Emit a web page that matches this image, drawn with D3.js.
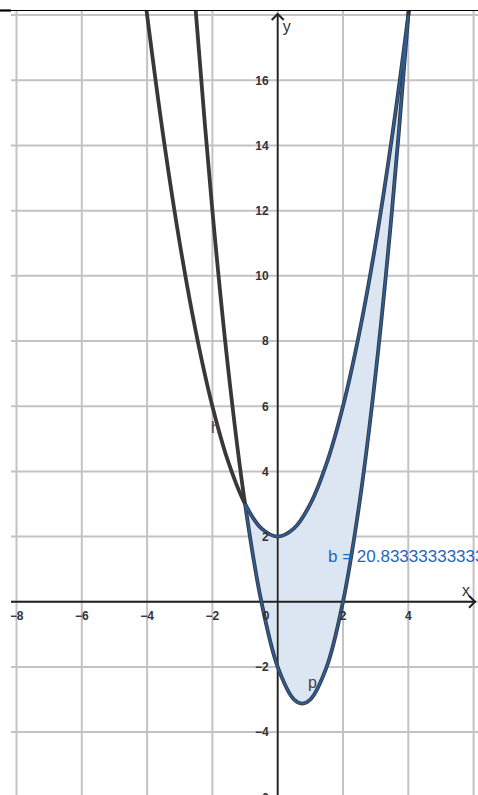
<!DOCTYPE html>
<html>
<head>
<meta charset="utf-8">
<script src="https://cdn.jsdelivr.net/npm/d3@7"></script>
<style>
  body { margin: 0; background: #fff; }
  svg { display: block; }
</style>
</head>
<body>
<div class="box"></div>
<script>
// points
var fX = [-4.3, -4, -3.5, -3, -2.5, -2, -1.5, -1, -0.5, 0, 0.5, 1, 1.5, 2, 2.5, 3, 3.5, 4, 4.2];
var fY = [20.49, 18, 14.25, 11, 8.25, 6, 4.25, 3, 2.25, 2, 2.25, 3, 4.25, 6, 8.25, 11, 14.25, 18, 19.64];
var pX = [-2.8, -2.5, -2, -1.5, -1, -0.5, 0, 0.5, 0.75, 1, 1.5, 2, 2.5, 3, 3.5, 4, 4.2];
var pY = [22.08, 18, 12, 7, 3, 0, -2, -3, -3.125, -3, -2, 0, 3, 7, 12, 18, 20.68];
var regionFrom = -1, regionTo = 4;
var xTicks = [-8, -6, -4, -2, 0, 2, 4];
var yTicks = [-6, -4, -2, 2, 4, 6, 8, 10, 12, 14, 16];
var gridX = [-8, -6, -4, -2, 0, 2, 4, 6];
var gridY = [-6, -4, -2, 0, 2, 4, 6, 8, 10, 12, 14, 16, 18];
var areaText = "b = 20.8333333333333";

var W = 478, H = 795;
var mLeft = 11, mTop = 11;

var svg = d3.select(".box").append("svg")
  .attr("width", W)
  .attr("height", H);

var x = d3.scaleLinear().domain([-8, 6]).range([16.5, 473.6]);
var y = d3.scaleLinear().domain([-6, 18]).range([797.3, 15.1]);

svg.append("defs").append("clipPath")
  .attr("id", "plot")
  .append("rect")
  .attr("x", mLeft).attr("y", mTop)
  .attr("width", W - mLeft).attr("height", H - mTop);

var g = svg.append("g").attr("clip-path", "url(#plot)");

// grid
g.append("g").selectAll("line")
  .data(gridX)
  .enter().append("line")
  .attr("x1", function(d) { return x(d); })
  .attr("x2", function(d) { return x(d); })
  .attr("y1", mTop).attr("y2", H)
  .attr("stroke", "#c2c2c8").attr("stroke-width", 2);
g.append("g").selectAll("line")
  .data(gridY)
  .enter().append("line")
  .attr("y1", function(d) { return y(d); })
  .attr("y2", function(d) { return y(d); })
  .attr("x1", mLeft).attr("x2", W)
  .attr("stroke", "#c2c2c8").attr("stroke-width", 2);

function pts(xs, ys) {
  return xs.map(function(d, i) { return [d, ys[i]]; });
}
var fPts = pts(fX, fY), pPts = pts(pX, pY);

var line = d3.line()
  .x(function(d) { return x(d[0]); })
  .y(function(d) { return y(d[1]); })
  .curve(d3.curveCatmullRom);

// shaded region between the two curves
var upper = fPts.filter(function(d) { return d[0] >= regionFrom && d[0] <= regionTo; });
var lower = pPts.filter(function(d) { return d[0] >= regionFrom && d[0] <= regionTo; }).reverse();
var regionPath = line(upper) + "L" + line(lower).slice(1) + "Z";

g.append("path")
  .attr("d", regionPath)
  .attr("fill", "#dce6f3")
  .attr("stroke", "none");

// axes
var axisCol = "#222";
g.append("line")
  .attr("x1", mLeft).attr("x2", W - 2)
  .attr("y1", y(0)).attr("y2", y(0))
  .attr("stroke", axisCol).attr("stroke-width", 2);
g.append("line")
  .attr("x1", x(0)).attr("x2", x(0))
  .attr("y1", mTop + 3).attr("y2", H)
  .attr("stroke", axisCol).attr("stroke-width", 1.8);
// arrows
g.append("path")
  .attr("d", "M" + (W - 9) + "," + (y(0) - 6) + "L" + (W - 3) + "," + y(0) + "L" + (W - 9) + "," + (y(0) + 6))
  .attr("fill", "none").attr("stroke", axisCol).attr("stroke-width", 2);
g.append("path")
  .attr("d", "M" + (x(0) - 6) + "," + (mTop + 9) + "L" + x(0) + "," + (mTop + 3) + "L" + (x(0) + 6) + "," + (mTop + 9))
  .attr("fill", "none").attr("stroke", axisCol).attr("stroke-width", 2);

// curves
g.append("path").attr("d", line(fPts))
  .attr("fill", "none").attr("stroke", "#383838").attr("stroke-width", 3.8);
g.append("path").attr("d", line(pPts))
  .attr("fill", "none").attr("stroke", "#383838").attr("stroke-width", 3.8);
g.append("path").attr("d", regionPath)
  .attr("fill", "none").attr("stroke", "#2b5d9c").attr("stroke-width", 2);

// tick labels
var fmt = function(d) { return d < 0 ? "\u2212" + Math.abs(d) : d; };
g.append("g").selectAll("text")
  .data(xTicks)
  .enter().append("text")
  .attr("x", function(d) { return d === 0 ? x(0) - 15 : x(d); })
  .attr("y", y(0) + 18)
  .attr("text-anchor", function(d) { return d === 0 ? "start" : "middle"; })
  .style("font", "bold 12px 'Liberation Sans', Arial, sans-serif")
  .attr("fill", "#333")
  .text(fmt);
g.append("g").selectAll("text")
  .data(yTicks)
  .enter().append("text")
  .attr("x", x(0) - 9)
  .attr("y", function(d) { return y(d); })
  .attr("dy", "0.36em")
  .attr("text-anchor", "end")
  .style("font", "bold 12px 'Liberation Sans', Arial, sans-serif")
  .attr("fill", "#333")
  .text(fmt);

// axis names and curve labels
var lab = "16px 'Liberation Sans', Arial, sans-serif";
g.append("text").attr("x", x(0) + 5).attr("y", 32).style("font", lab).attr("fill", "#333").text("y");
g.append("text").attr("x", 462).attr("y", 596).style("font", lab).attr("fill", "#333").text("x");
g.append("text").attr("x", 211).attr("y", 433).style("font", lab).attr("fill", "#444").text("h");
g.append("text").attr("x", 308).attr("y", 688).style("font", lab).attr("fill", "#444").text("p");
g.append("text").attr("x", 328).attr("y", 562)
  .style("font", "17px 'Liberation Sans', Arial, sans-serif")
  .attr("fill", "#1f66c1").text(areaText);

// top border
svg.append("line").attr("x1", 0).attr("x2", W).attr("y1", 10.5).attr("y2", 10.5)
  .attr("stroke", "#000").attr("stroke-width", 1.2);
svg.append("line").attr("x1", 0).attr("x2", mLeft).attr("y1", 10.5).attr("y2", 10.5)
  .attr("stroke", "#000").attr("stroke-width", 2.2);
</script>
</body>
</html>
